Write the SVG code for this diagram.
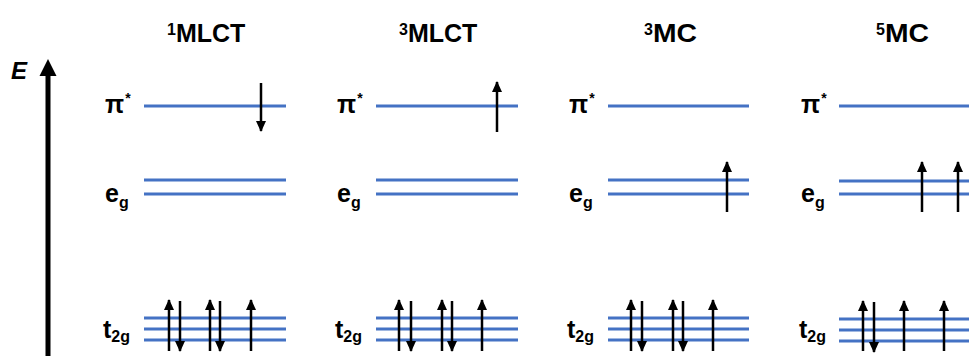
<svg xmlns="http://www.w3.org/2000/svg" width="969" height="356" viewBox="0 0 969 356">
<style>
text{font-family:"Liberation Sans",Arial,sans-serif;font-weight:bold;fill:#000}
.t{font-size:25px}
.sup{font-size:16px}
.lbl{font-size:25px}
.sub{font-size:16px}
.ast{font-size:14px}
.lv{stroke:#4472C4;stroke-width:3;fill:none}
.e{stroke:#000;stroke-width:2.5;fill:none;marker-end:url(#ah)}
</style>
<defs>
<marker id="ah" markerUnits="userSpaceOnUse" markerWidth="11" markerHeight="10" refX="10" refY="5" orient="auto" viewBox="0 0 11 10">
<path d="M0,0 L11,5 L0,10 z" fill="#000"/>
</marker>
</defs>
<g id="axis">
<rect x="45.5" y="74" width="5" height="282" fill="#000"/>
<polygon points="48,59 56.5,76 39.5,76" fill="#000"/>
<text x="11" y="79" style="font-size:24px;font-style:italic">E</text>
</g>
<g id="panel-1MLCT">
<text class="t" x="167" y="42"><tspan class="sup" dy="-7">1</tspan><tspan dy="7">MLCT</tspan></text>
<text class="lbl" x="105" y="113">π<tspan class="ast" dy="-10" dx="1">*</tspan></text>
<text class="lbl" x="105" y="202">e<tspan class="sub" dy="6">g</tspan></text>
<text class="lbl" x="103" y="338">t<tspan class="sub" dy="4">2g</tspan></text>
<line class="lv" x1="144" y1="106" x2="286" y2="106"/>
<line class="lv" x1="144" y1="180" x2="286" y2="180"/>
<line class="lv" x1="144" y1="194" x2="286" y2="194"/>
<line class="lv" x1="144" y1="318" x2="286" y2="318"/>
<line class="lv" x1="144" y1="329" x2="286" y2="329"/>
<line class="lv" x1="144" y1="340" x2="286" y2="340"/>
</g>
<g id="panel-3MLCT">
<text class="t" x="399" y="42"><tspan class="sup" dy="-7">3</tspan><tspan dy="7">MLCT</tspan></text>
<text class="lbl" x="337" y="113">π<tspan class="ast" dy="-10" dx="1">*</tspan></text>
<text class="lbl" x="337" y="202">e<tspan class="sub" dy="6">g</tspan></text>
<text class="lbl" x="335" y="338">t<tspan class="sub" dy="4">2g</tspan></text>
<line class="lv" x1="376" y1="106" x2="518" y2="106"/>
<line class="lv" x1="376" y1="180" x2="518" y2="180"/>
<line class="lv" x1="376" y1="194" x2="518" y2="194"/>
<line class="lv" x1="376" y1="318" x2="518" y2="318"/>
<line class="lv" x1="376" y1="329" x2="518" y2="329"/>
<line class="lv" x1="376" y1="340" x2="518" y2="340"/>
</g>
<g id="panel-3MC">
<text class="t" x="644" y="42"><tspan class="sup" dy="-7">3</tspan><tspan dy="7" textLength="44" lengthAdjust="spacingAndGlyphs">MC</tspan></text>
<text class="lbl" x="569" y="113">π<tspan class="ast" dy="-10" dx="1">*</tspan></text>
<text class="lbl" x="569" y="202">e<tspan class="sub" dy="6">g</tspan></text>
<text class="lbl" x="567" y="338">t<tspan class="sub" dy="4">2g</tspan></text>
<line class="lv" x1="608" y1="106" x2="749" y2="106"/>
<line class="lv" x1="608" y1="180" x2="749" y2="180"/>
<line class="lv" x1="608" y1="194" x2="749" y2="194"/>
<line class="lv" x1="608" y1="318" x2="749" y2="318"/>
<line class="lv" x1="608" y1="329" x2="749" y2="329"/>
<line class="lv" x1="608" y1="340" x2="749" y2="340"/>
</g>
<g id="panel-5MC">
<text class="t" x="876" y="42"><tspan class="sup" dy="-7">5</tspan><tspan dy="7" textLength="44" lengthAdjust="spacingAndGlyphs">MC</tspan></text>
<text class="lbl" x="801" y="113">π<tspan class="ast" dy="-10" dx="1">*</tspan></text>
<text class="lbl" x="801" y="202">e<tspan class="sub" dy="6">g</tspan></text>
<text class="lbl" x="799" y="338">t<tspan class="sub" dy="4">2g</tspan></text>
<line class="lv" x1="839" y1="106" x2="969" y2="106"/>
<line class="lv" x1="839" y1="181" x2="969" y2="181"/>
<line class="lv" x1="839" y1="194" x2="969" y2="194"/>
<line class="lv" x1="839" y1="319" x2="969" y2="319"/>
<line class="lv" x1="839" y1="330" x2="969" y2="330"/>
<line class="lv" x1="839" y1="341" x2="969" y2="341"/>
</g>
<g id="electrons">
<line class="e" x1="261" y1="83" x2="261" y2="131"/>
<line class="e" x1="169" y1="351" x2="169" y2="300"/>
<line class="e" x1="180" y1="301" x2="180" y2="351"/>
<line class="e" x1="210" y1="351" x2="210" y2="300"/>
<line class="e" x1="220" y1="301" x2="220" y2="351"/>
<line class="e" x1="251" y1="351" x2="251" y2="300"/>

<line class="e" x1="497" y1="132" x2="497" y2="82"/>
<line class="e" x1="399" y1="351" x2="399" y2="300"/>
<line class="e" x1="411" y1="301" x2="411" y2="351"/>
<line class="e" x1="442" y1="351" x2="442" y2="300"/>
<line class="e" x1="452" y1="301" x2="452" y2="351"/>
<line class="e" x1="482" y1="351" x2="482" y2="300"/>

<line class="e" x1="727" y1="212" x2="727" y2="162"/>
<line class="e" x1="631" y1="351" x2="631" y2="300"/>
<line class="e" x1="642" y1="301" x2="642" y2="351"/>
<line class="e" x1="673" y1="351" x2="673" y2="300"/>
<line class="e" x1="683" y1="301" x2="683" y2="351"/>
<line class="e" x1="713" y1="351" x2="713" y2="300"/>

<line class="e" x1="922" y1="212" x2="922" y2="162"/>
<line class="e" x1="958" y1="212" x2="958" y2="162"/>
<line class="e" x1="863" y1="351" x2="863" y2="301"/>
<line class="e" x1="874" y1="302" x2="874" y2="352"/>
<line class="e" x1="904" y1="351" x2="904" y2="301"/>
<line class="e" x1="944" y1="351" x2="944" y2="301"/>
</g>
</svg>
